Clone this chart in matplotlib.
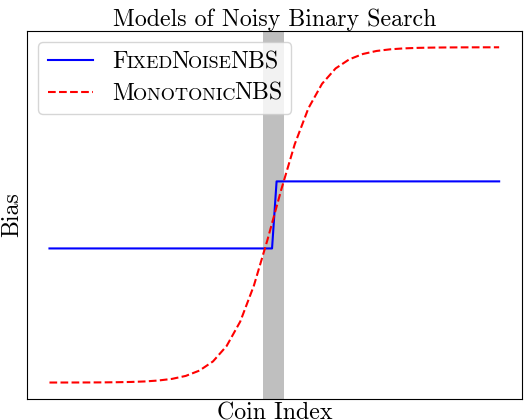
import matplotlib
matplotlib.use('Agg')
import matplotlib.pyplot as plt
from matplotlib.lines import Line2D
from matplotlib.offsetbox import AnchoredOffsetbox, HPacker, VPacker, TextArea, DrawingArea

plt.rcParams['font.family'] = 'serif'
plt.rcParams['font.serif'] = ['cmr10']
plt.rcParams['axes.formatter.use_mathtext'] = True

FS = 17.2

# fixed-noise model: bias jumps at the target coin
fixed_x = [0, 49, 50, 99]
fixed_y = [0.4, 0.4, 0.6, 0.6]

# monotonic model: smooth s-curve
mono_x = [0, 3, 6, 9, 12, 15, 18, 21, 24, 27, 30, 33, 36, 39, 42, 45, 48,
          51, 54, 57, 60, 63, 66, 69, 72, 75, 78, 81, 84, 87, 90, 93, 96, 99]
mono_y = [0.00005, 0.00009, 0.00017, 0.0003, 0.00055, 0.001, 0.0018, 0.0033,
          0.0061, 0.011, 0.0198, 0.0356, 0.063, 0.109, 0.182, 0.289, 0.426,
          0.574, 0.711, 0.818, 0.891, 0.937, 0.964, 0.980, 0.989, 0.9939,
          0.9967, 0.9982, 0.999, 0.99945, 0.9997, 0.99983, 0.99991, 0.99995]

# noisy region around the target
band_lo, band_hi = 47.0, 51.7

legend_parts = [
    [('F', 1), ('IXED', 0), ('N', 1), ('OISE', 0), ('NBS', 1)],
    [('M', 1), ('ONOTONIC', 0), ('NBS', 1)],
]
legend_styles = [dict(color='b', ls='-'), dict(color='r', ls='--')]

fig = plt.figure(figsize=(5.24, 4.2), dpi=100)
ax = fig.add_axes([0.0515, 0.0493, 0.944, 0.878])

ax.axvspan(band_lo, band_hi, color='gray', alpha=0.5, lw=0)
ax.plot(fixed_x, fixed_y, 'b-', lw=1.5)
ax.plot(mono_x, mono_y, 'r--', lw=1.5)

ax.set_xticks([])
ax.set_yticks([])
ax.set_title('Models of Noisy Binary Search', fontsize=FS, pad=3)
ax.set_xlabel('Coin Index', fontsize=FS, labelpad=2)
ax.set_ylabel('Bias', fontsize=FS, labelpad=3)

# legend with small caps, built by hand
hfs = 16.5
rows = []
for parts, st in zip(legend_parts, legend_styles):
    da = DrawingArea(2.0 * hfs, 0.7 * hfs, 0, 0)
    da.add_artist(Line2D([0, 2.0 * hfs], [0.35 * hfs, 0.35 * hfs], lw=1.5, **st))
    texts = [TextArea(s, textprops=dict(size=FS if big else FS * 0.76)) for s, big in parts]
    label = HPacker(children=texts, sep=-0.8, pad=0, align='baseline')
    rows.append(HPacker(children=[da, label], sep=0.8 * hfs, pad=0, align='baseline'))
box = VPacker(children=rows, sep=0.4 * hfs, pad=0, align='left')
leg = AnchoredOffsetbox(loc='upper left', child=box, pad=0.4, borderpad=0.5,
                        prop=dict(size=hfs), frameon=True)
leg.patch.set_boxstyle('round', pad=0, rounding_size=0.2)
leg.patch.set_facecolor('white')
leg.patch.set_alpha(0.8)
leg.patch.set_edgecolor('0.8')
ax.add_artist(leg)

fig.savefig('out.png', dpi=100)
